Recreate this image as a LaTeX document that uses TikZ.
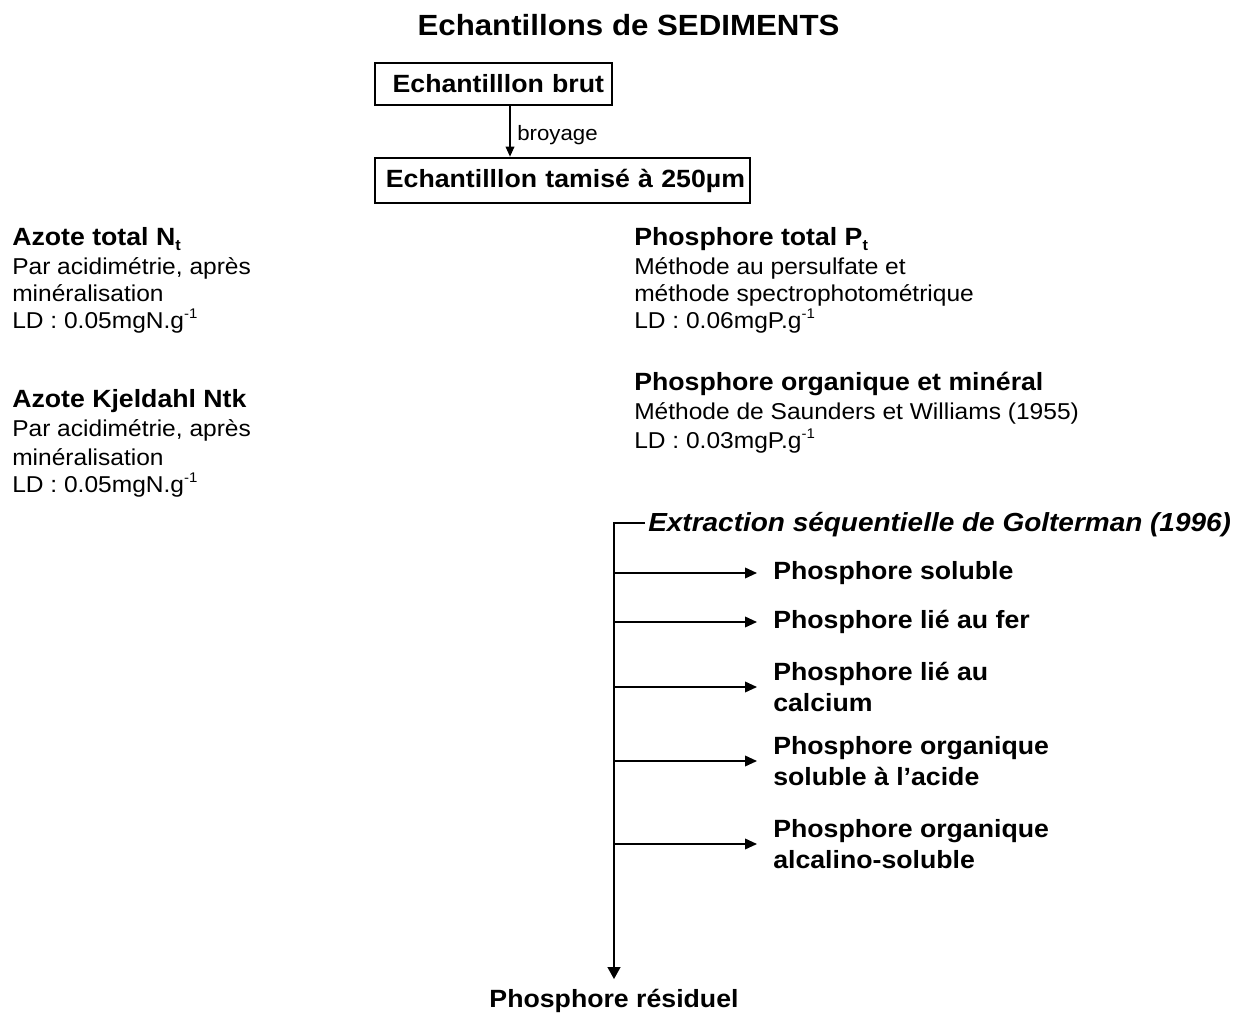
\documentclass[tikz,border=0pt]{standalone}
\usepackage{fontspec}
\setmainfont[FakeStretch=1.07]{Liberation Sans}
\usetikzlibrary{arrows.meta}
\newcommand\mysub[1]{\raisebox{-0.35ex}{\fontsize{11.5}{11.5}\selectfont #1}}
\newcommand\mysup[1]{\raisebox{0.85ex}{\fontsize{10.5}{10.5}\selectfont #1}}
\begin{document}
\begin{tikzpicture}[x=0.75pt,y=-0.75pt,
 body/.style={font=\fontsize{17.2}{21}\selectfont, inner sep=0pt, anchor=base west},
 head/.style={font=\bfseries\fontsize{18.7}{23.25}\selectfont, inner sep=0pt, anchor=base west},
 item/.style={font=\bfseries\fontsize{18.7}{23.25}\selectfont, inner sep=0pt, anchor=west, align=left},
 box/.style={draw, line width=2pt, font=\bfseries\fontsize{18.7}{23.25}\selectfont, align=right, inner ysep=0pt},
 arr/.style={line width=1.2pt, -{Triangle[length=9pt,width=8pt]}},
 trunk/.style={line width=1.5pt, -{Triangle[length=9pt,width=9.5pt]}},
]
\useasboundingbox (0,0) rectangle (1233,1016);

% title
\node[font=\bfseries\fontsize{21.9}{26}\selectfont, inner sep=0pt, anchor=base] (title) at (628.5,36) {Echantillons de SEDIMENTS};

% boxes
\node[box, minimum width=177.75pt, minimum height=31.5pt, text width=165.75pt, inner xsep=6pt] (brut) at (493.5,84) {Echantilllon brut};
\node[box, minimum width=281.25pt, minimum height=33.75pt, text width=273.75pt, inner xsep=3.75pt] (tam) at (562.5,180.5) {Echantilllon tamisé à 250µm};
\coordinate (ax) at (510,0);
\draw[line width=1pt, -{Triangle[length=7.5pt,width=6.5pt]}] (brut.south -| ax) -- (tam.north -| ax);
\node[font=\fontsize{15.6}{18}\selectfont, inner sep=0pt, anchor=base west] (broy) at (517,141) {broyage};

% left column
\node[head] (nt) at (12,246) {Azote total N\mysub{t}};
\node[body] (nt1) at (12,275) {Par acidimétrie, après};
\node[body] (nt2) at (12,302) {minéralisation};
\node[body] (nt3) at (12,329) {LD : 0.05mgN.g\mysup{-1}};

\node[head] (ntk) at (12,408) {Azote Kjeldahl Ntk};
\node[body] (ntk1) at (12,437) {Par acidimétrie, après};
\node[body] (ntk2) at (12,465) {minéralisation};
\node[body] (ntk3) at (12,493) {LD : 0.05mgN.g\mysup{-1}};

% right column
\node[head] (pt) at (634,246) {Phosphore total P\mysub{t}};
\node[body] (pt1) at (634,275) {Méthode au persulfate et};
\node[body] (pt2) at (634,302) {méthode spectrophotométrique};
\node[body] (pt3) at (634,329) {LD : 0.06mgP.g\mysup{-1}};

\node[head] (pom) at (634,391) {Phosphore organique et minéral};
\node[body] (pom1) at (634,420) {Méthode de Saunders et Williams (1955)};
\node[body] (pom2) at (634,449) {LD : 0.03mgP.g\mysup{-1}};

% Golterman tree
\coordinate (top) at (614,523);
\node[font=\bfseries\itshape\fontsize{19.6}{23.25}\selectfont, inner sep=0pt, anchor=base west] (gol) at (648,532) {Extraction séquentielle de Golterman (1996)};

\node[item] (p1) at (773,573) {Phosphore soluble};
\node[item] (p2) at (773,622) {Phosphore lié au fer};
\node[item] (p3) at (773,687) {Phosphore lié au\\calcium};
\node[item] (p4) at (773,761) {Phosphore organique\\soluble à l’acide};
\node[item] (p5) at (773,844) {Phosphore organique\\alcalino-soluble};

\node[head, anchor=base] (res) at (614,1007) {Phosphore résiduel};

\draw[trunk, shorten >=7pt] ([xshift=-2.25pt]top -| gol.west) -- (top) -- (res.north);
\foreach \p in {p1,p2,p3,p4,p5}
  \draw[arr] (\p.west -| top) -- ([xshift=-12pt]\p.west);
\end{tikzpicture}
\end{document}
